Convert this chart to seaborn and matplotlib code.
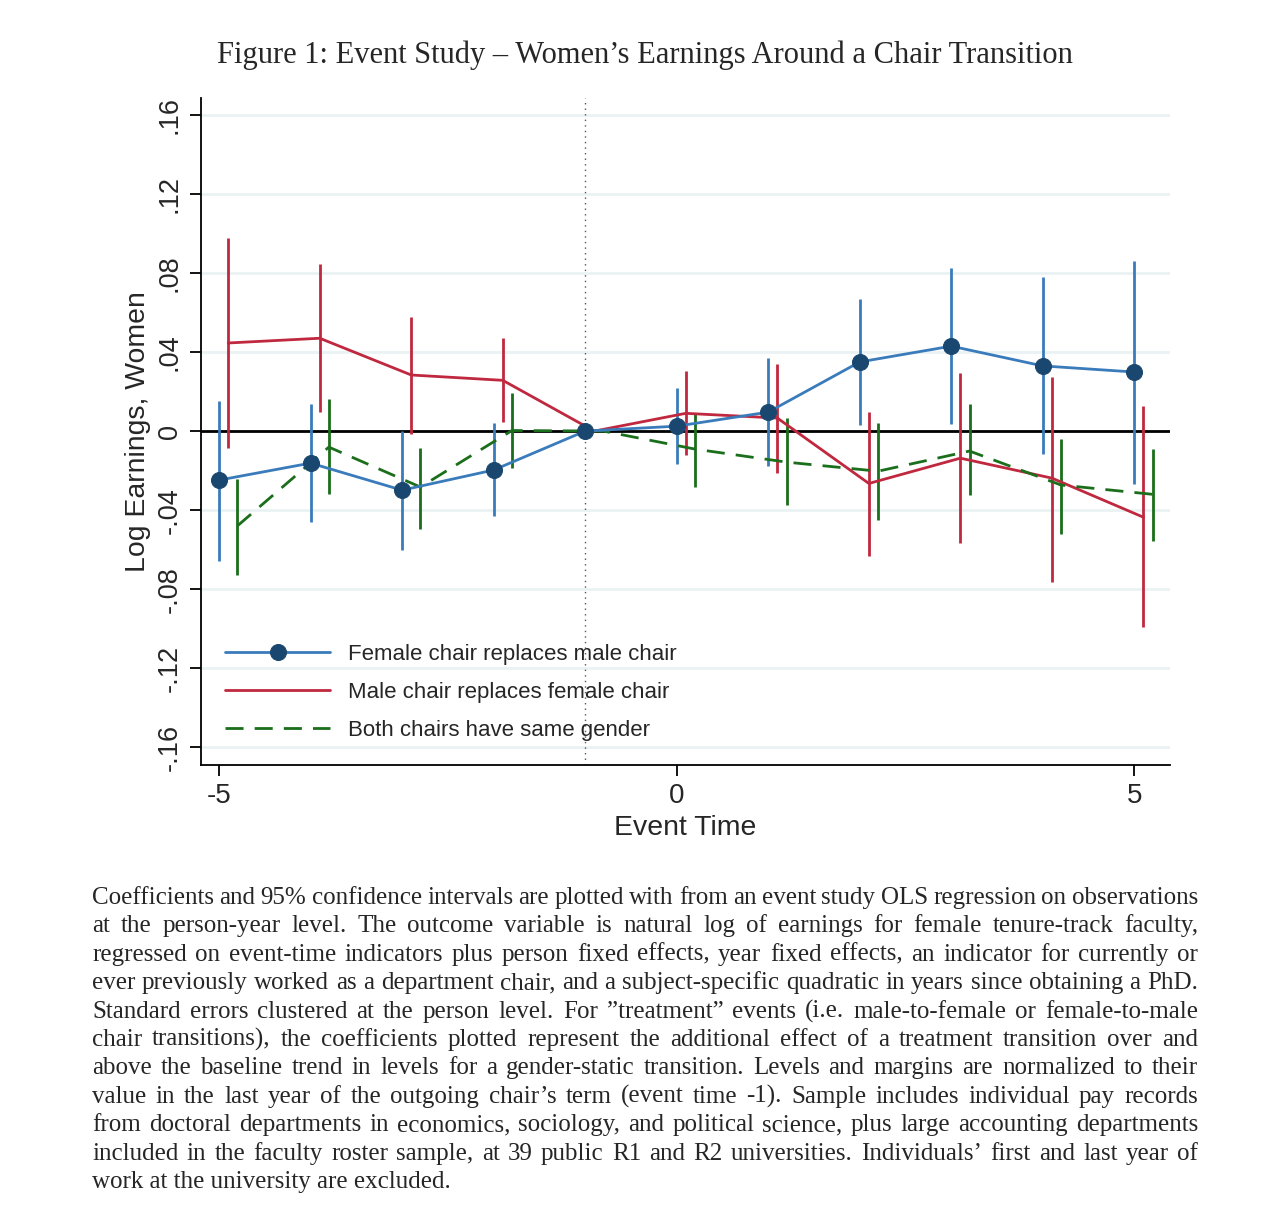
import numpy as np
import pandas as pd
import matplotlib
matplotlib.use('Agg')
import matplotlib.pyplot as plt
import seaborn as sns

# event time
event_time = [-5, -4, -3, -2, -1, 0, 1, 2, 3, 4, 5]

# female chair replaces male chair
fem_coef = [-0.0248, -0.0162, -0.0299, -0.0197, 0.0, 0.0025, 0.0096, 0.0350, 0.0430, 0.0330, 0.0299]
fem_lo = [-0.0658, -0.0460, -0.0600, -0.0430, 0.0, -0.0167, -0.0177, 0.0030, 0.0035, -0.0116, -0.0268]
fem_hi = [0.0152, 0.0137, 0.0000, 0.0040, 0.0, 0.0218, 0.0370, 0.0668, 0.0825, 0.0780, 0.0860]

# male chair replaces female chair
male_coef = [0.0446, 0.0470, 0.0284, 0.0257, 0.0, 0.0090, 0.0066, -0.0265, -0.0137, -0.0238, -0.0436]
male_lo = [-0.0086, 0.0096, -0.0015, 0.0046, 0.0, -0.0120, -0.0213, -0.0630, -0.0567, -0.0765, -0.0993]
male_hi = [0.0977, 0.0846, 0.0580, 0.0470, 0.0, 0.0304, 0.0340, 0.0096, 0.0294, 0.0274, 0.0127]

# both chairs same gender
same_coef = [-0.0480, -0.0081, -0.0283, 0.0003, 0.0, -0.0091, -0.0157, -0.0203, -0.0101, -0.0273, -0.0320]
same_lo = [-0.0730, -0.0320, -0.0496, -0.0187, 0.0, -0.0283, -0.0375, -0.0450, -0.0324, -0.0520, -0.0557]
same_hi = [-0.0243, 0.0162, -0.0086, 0.0192, 0.0, 0.0090, 0.0066, 0.0040, 0.0137, -0.0040, -0.0091]

series_labels = ['Female chair replaces male chair',
                 'Male chair replaces female chair',
                 'Both chairs have same gender']
yticks = [-0.16, -0.12, -0.08, -0.04, 0, 0.04, 0.08, 0.12, 0.16]
ytick_labels = ['-.16', '-.12', '-.08', '-.04', '0', '.04', '.08', '.12', '.16']

title = 'Figure 1: Event Study \u2013 Women\u2019s Earnings Around a Chair Transition'
caption = [
    'Coefficients and 95% confidence intervals are plotted with from an event study OLS regression on observations',
    'at the person-year level.  The outcome variable is natural log of earnings for female tenure-track faculty,',
    'regressed on event-time indicators plus person fixed effects, year fixed effects, an indicator for currently or',
    'ever previously worked as a department chair, and a subject-specific quadratic in years since obtaining a PhD.',
    'Standard errors clustered at the person level. For \u201dtreatment\u201d events (i.e. male-to-female or female-to-male',
    'chair transitions), the coefficients plotted represent the additional effect of a treatment transition over and',
    'above the baseline trend in levels for a gender-static transition. Levels and margins are normalized to their',
    'value in the last year of the outgoing chair\u2019s term (event time -1). Sample includes individual pay records',
    'from doctoral departments in economics, sociology, and political science, plus large accounting departments',
    'included in the faculty roster sample, at 39 public R1 and R2 universities. Individuals\u2019 first and last year of',
    'work at the university are excluded.',
]

sns.set_style('white')
plt.rcParams['font.family'] = ['Liberation Sans', 'DejaVu Sans']
serif = ['Liberation Serif', 'DejaVu Serif']

W, H = 1280, 1206
fig = plt.figure(figsize=(W / 100, H / 100), dpi=100)
ax = fig.add_axes([201 / W, 1 - 765 / H, (1170 - 201) / W, (765 - 98) / H])

blue_line = '#3a7bbb'
blue_mark = '#1a476f'
red = '#c0283f'
green = '#1b6e1b'

et = np.array(event_time, dtype=float)
offsets = [0.0, 0.1, 0.2]
coefs = [fem_coef, male_coef, same_coef]
los = [fem_lo, male_lo, same_lo]
his = [fem_hi, male_hi, same_hi]
colors = [blue_line, red, green]

# grid + reference lines
for yt in yticks:
    ax.axhline(yt, color='#eaf2f3', lw=2, zorder=0)
ax.axhline(0, color='black', lw=2, zorder=1)
ax.axvline(-1, color='#555555', lw=1, ls=(0, (1, 3)), zorder=1)

# confidence intervals
for off, lo, hi, c in zip(offsets, los, his, colors):
    x = et + off
    mask = et != -1
    ax.vlines(x[mask], np.array(lo)[mask], np.array(hi)[mask], color=c, lw=2, zorder=2)

df = pd.DataFrame({'x': np.concatenate([et + o for o in offsets]),
                   'y': np.concatenate(coefs),
                   'series': np.repeat(series_labels, len(et))})

sns.lineplot(data=df[df.series == series_labels[0]], x='x', y='y', color=blue_line, lw=2,
             marker='o', markersize=11.5, markerfacecolor=blue_mark, markeredgecolor=blue_mark,
             label=series_labels[0], ax=ax, zorder=4)
sns.lineplot(data=df[df.series == series_labels[1]], x='x', y='y', color=red, lw=2,
             label=series_labels[1], ax=ax, zorder=3)
sns.lineplot(data=df[df.series == series_labels[2]], x='x', y='y', color=green, lw=2,
             dashes=False, label=series_labels[2], ax=ax, zorder=3)
ax.get_lines()[-1].set_dashes((6.5, 4))

ax.set_xlim(-5.197, 5.39)
ax.set_ylim(-0.169, 0.1686)
ax.set_xticks([-5, 0, 5])
ax.set_xticklabels(['-5', '0', '5'], fontsize=20)
ax.set_yticks(yticks)
ax.set_yticklabels(ytick_labels, fontsize=19.5, rotation=90, va='center')
ax.tick_params(axis='both', direction='out', length=8, width=1.3, color='black', pad=5)
ax.tick_params(left=True, bottom=True)
for s in ['top', 'right']:
    ax.spines[s].set_visible(False)
for s in ['left', 'bottom']:
    ax.spines[s].set_color('black')
    ax.spines[s].set_linewidth(1.3)
ax.set_xlabel('Event Time', fontsize=20.4, labelpad=4)
ax.set_ylabel('Log Earnings, Women', fontsize=20.4, labelpad=4)

leg = ax.legend(loc='lower left', bbox_to_anchor=(0.0, 0.0), frameon=False, fontsize=16,
                handlelength=4.7, handletextpad=0.8, labelspacing=0.75, borderaxespad=0.7)

fig.text(645 / W, 1 - 55 / H, title, ha='center', va='center', fontsize=22, family=serif)

# justified caption
fig.canvas.draw()
r = fig.canvas.get_renderer()
x0, x1 = 92, 1198
cap_size = 18
for i, line in enumerate(caption):
    yb = 1 - (904 + i * 28.4) / H
    if i == len(caption) - 1:
        fig.text(x0 / W, yb, line, ha='left', va='baseline', fontsize=cap_size, family=serif)
        continue
    words = line.split()
    texts = [fig.text(0, yb, w, ha='left', va='baseline', fontsize=cap_size, family=serif)
             for w in words]
    widths = [t.get_window_extent(r).width for t in texts]
    gap = (x1 - x0 - sum(widths)) / (len(words) - 1)
    x = x0
    for t, w in zip(texts, widths):
        t.set_x(x / W)
        x += w + gap

fig.savefig('out.png', dpi=100, facecolor='white')
